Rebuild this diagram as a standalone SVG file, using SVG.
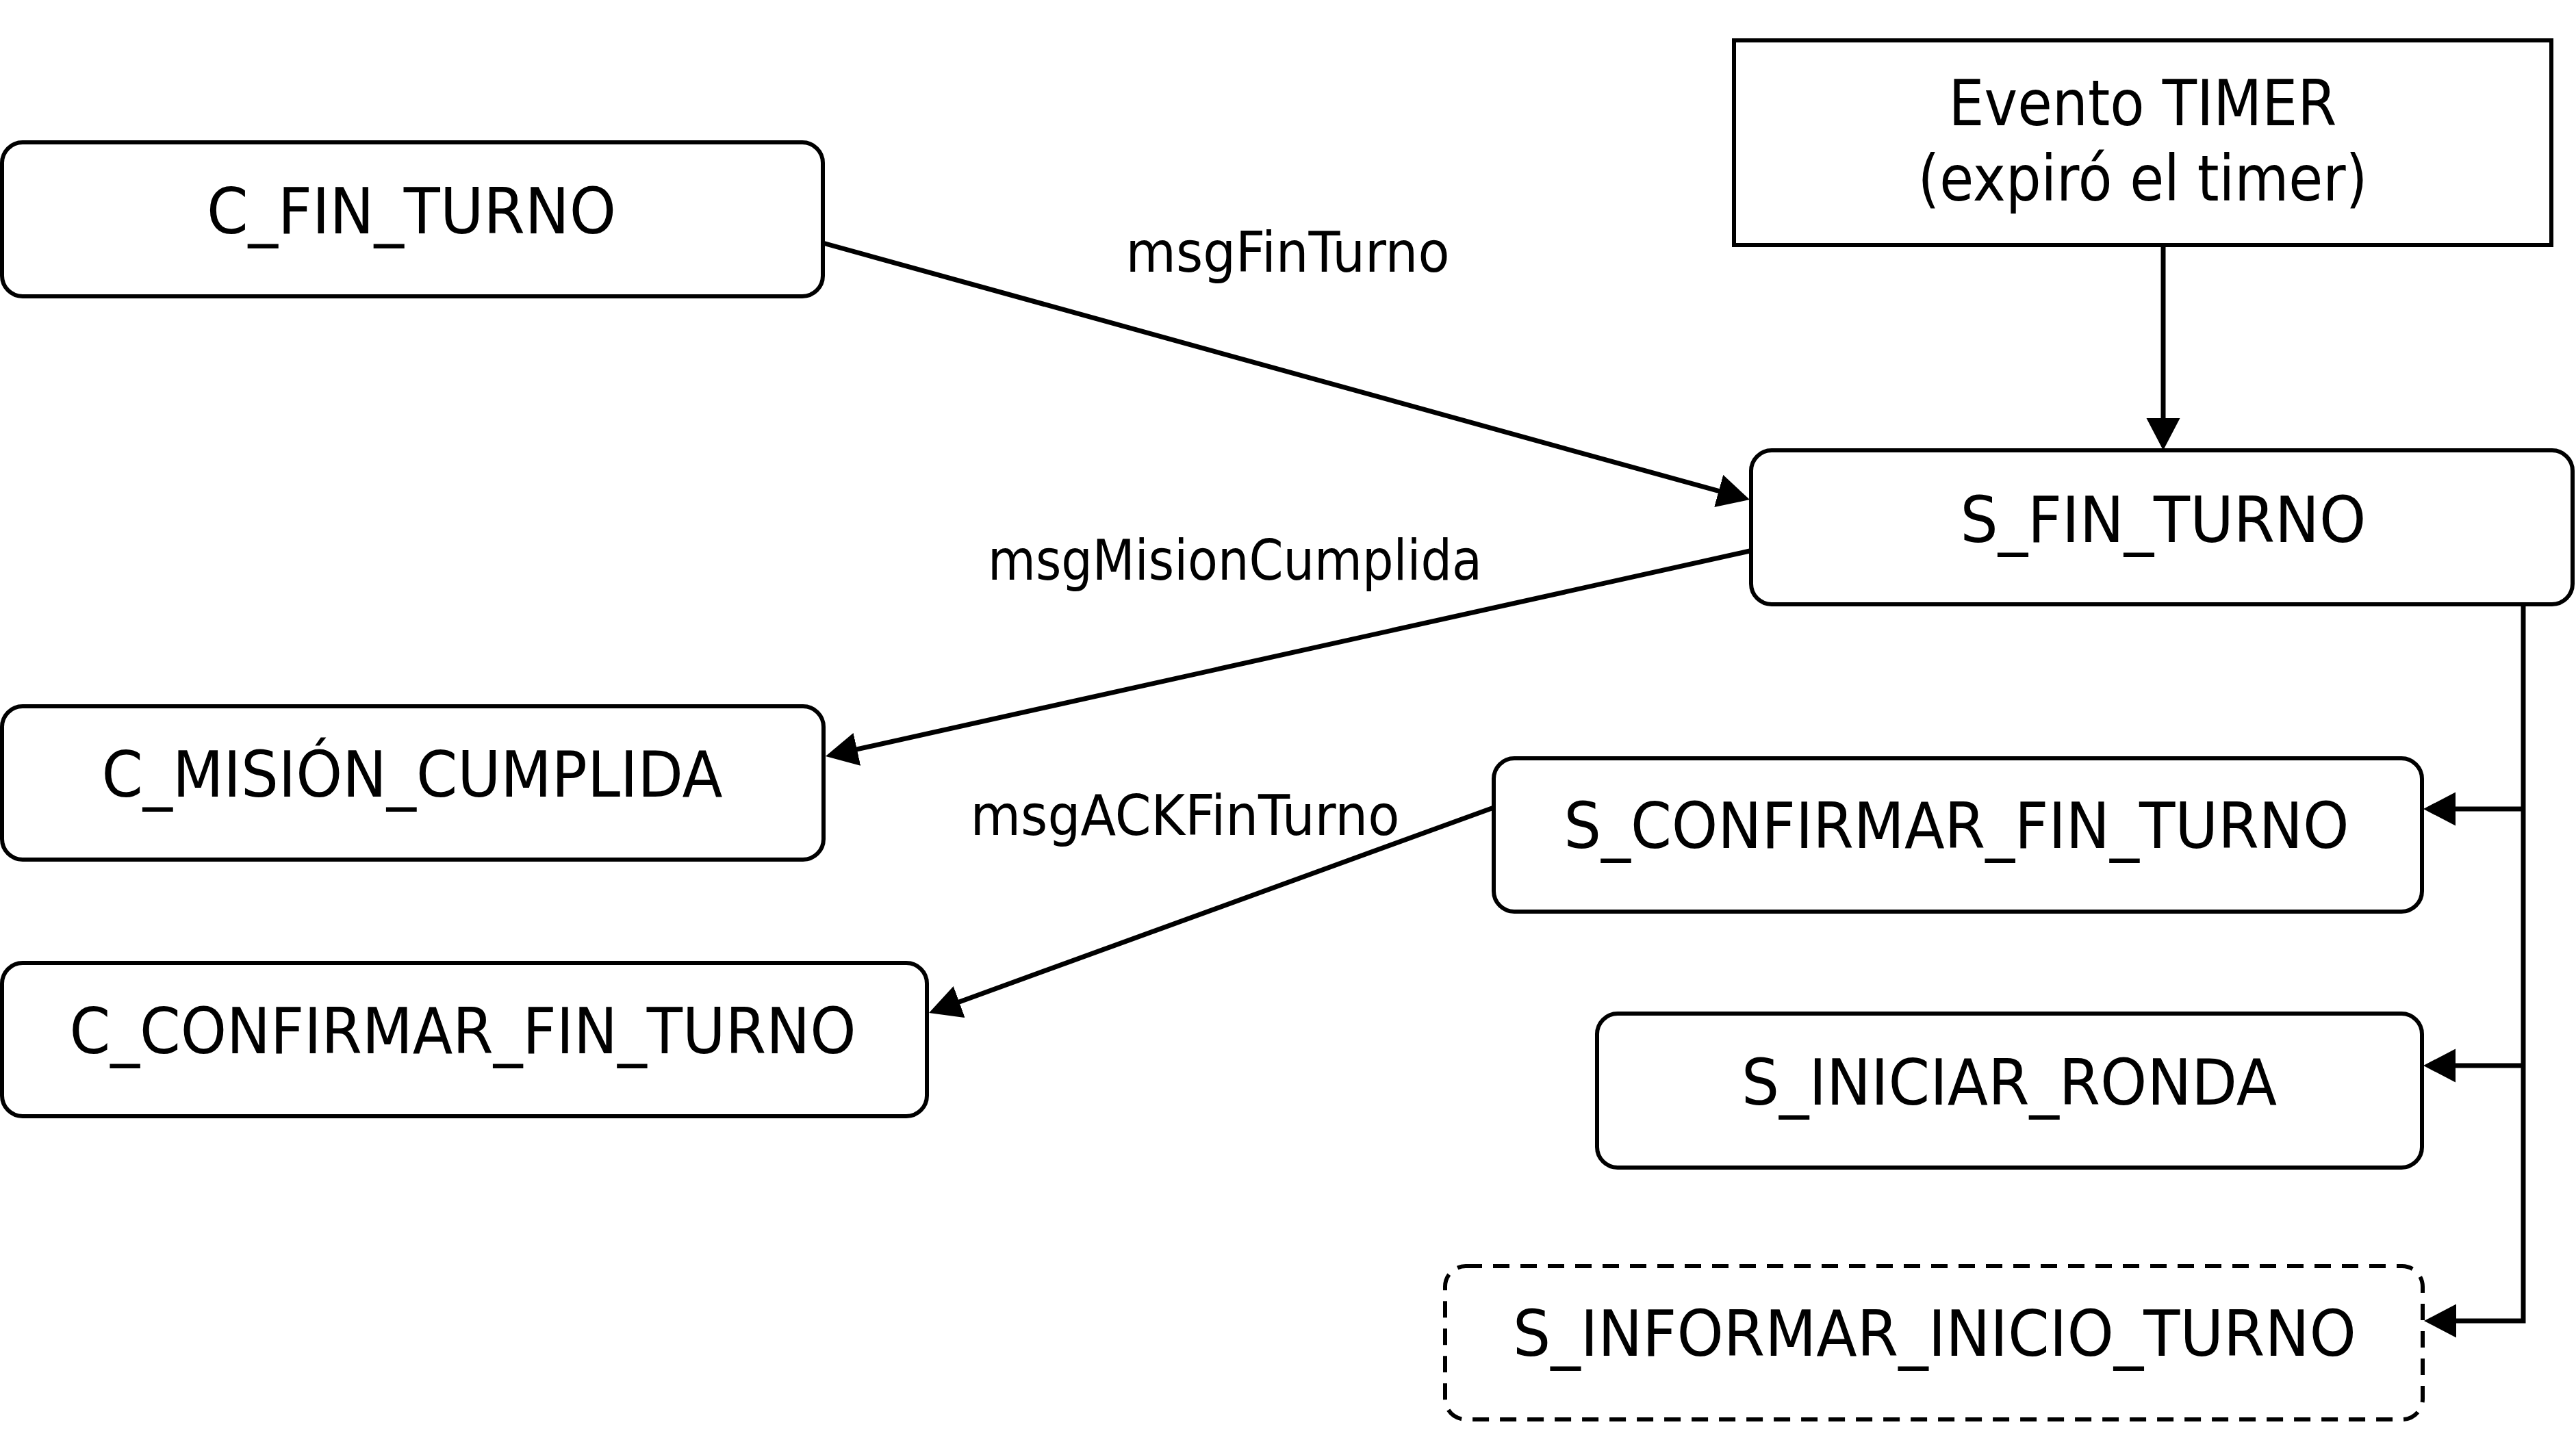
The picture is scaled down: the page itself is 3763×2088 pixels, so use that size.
<svg xmlns="http://www.w3.org/2000/svg" width="3763" height="2088" viewBox="0 0 3763 2088">
<style>
.box{fill:#fff;stroke:#000;stroke-width:6}
.dash{stroke-dasharray:24 16}
.t{font-family:"DejaVu Sans","Liberation Sans",sans-serif;font-size:93px;fill:#000;text-anchor:middle}
.lbl{font-family:"DejaVu Sans","Liberation Sans",sans-serif;font-size:82px;fill:#000;text-anchor:middle}
.c{fill:none;stroke:#000;stroke-width:7}
</style>
<defs>
<marker id="ah" markerUnits="userSpaceOnUse" markerWidth="50" markerHeight="50" refX="27" refY="24.5" orient="auto" viewBox="0 0 50 50">
<path d="M0,0 L47,24.5 L0,49 z" fill="#000"/>
</marker>
</defs>
<rect width="3763" height="2088" fill="#fff"/>
<g id="connectors">
<line class="c" x1="1202" y1="355" x2="2536.7" y2="724.7" marker-end="url(#ah)"/>
<line class="c" x1="2556" y1="805" x2="1225.5" y2="1100.7" marker-end="url(#ah)"/>
<line class="c" x1="2182" y1="1180" x2="1375.8" y2="1473.2" marker-end="url(#ah)"/>
<line class="c" x1="3160" y1="358" x2="3160" y2="638" marker-end="url(#ah)"/>
<path class="c" d="M3686,883 V1930 H3561" marker-end="url(#ah)"/>
<line class="c" x1="3686" y1="1182" x2="3560" y2="1182" marker-end="url(#ah)"/>
<line class="c" x1="3686" y1="1557" x2="3560" y2="1557" marker-end="url(#ah)"/>
<text class="lbl" x="1881" y="397" textLength="473" lengthAdjust="spacingAndGlyphs">msgFinTurno</text>
<text class="lbl" x="1804" y="847" textLength="722" lengthAdjust="spacingAndGlyphs">msgMisionCumplida</text>
<text class="lbl" x="1731" y="1220" textLength="627" lengthAdjust="spacingAndGlyphs">msgACKFinTurno</text>
</g>
<g id="c_fin_turno">
<rect class="box" x="3" y="208" width="1199" height="225" rx="30"/>
<text class="t" x="601" y="341" textLength="598" lengthAdjust="spacingAndGlyphs">C_FIN_TURNO</text>
</g>
<g id="evento_timer">
<rect class="box" x="2533" y="59" width="1194" height="299"/>
<text class="t" x="3130" y="183" textLength="567" lengthAdjust="spacingAndGlyphs">Evento TIMER</text>
<text class="t" x="3130" y="293" textLength="657" lengthAdjust="spacingAndGlyphs">(expiró el timer)</text>
</g>
<g id="s_fin_turno">
<rect class="box" x="2558" y="658" width="1200" height="225" rx="30"/>
<text class="t" x="3160" y="792" textLength="593" lengthAdjust="spacingAndGlyphs">S_FIN_TURNO</text>
</g>
<g id="c_mision_cumplida">
<rect class="box" x="3" y="1032" width="1200" height="224" rx="30"/>
<text class="t" x="602" y="1164" textLength="907" lengthAdjust="spacingAndGlyphs">C_MISIÓN_CUMPLIDA</text>
</g>
<g id="c_confirmar_fin_turno">
<rect class="box" x="3" y="1407" width="1351" height="224" rx="30"/>
<text class="t" x="676" y="1539" textLength="1149" lengthAdjust="spacingAndGlyphs">C_CONFIRMAR_FIN_TURNO</text>
</g>
<g id="s_confirmar_fin_turno">
<rect class="box" x="2182" y="1108" width="1356" height="224" rx="30"/>
<text class="t" x="2858" y="1239" textLength="1147" lengthAdjust="spacingAndGlyphs">S_CONFIRMAR_FIN_TURNO</text>
</g>
<g id="s_iniciar_ronda">
<rect class="box" x="2333" y="1481" width="1205" height="225" rx="30"/>
<text class="t" x="2935" y="1614" textLength="782" lengthAdjust="spacingAndGlyphs">S_INICIAR_RONDA</text>
</g>
<g id="s_informar_inicio_turno">
<rect class="box dash" x="2111" y="1850" width="1428" height="224" rx="30"/>
<text class="t" x="2826" y="1981" textLength="1232" lengthAdjust="spacingAndGlyphs">S_INFORMAR_INICIO_TURNO</text>
</g>
</svg>
